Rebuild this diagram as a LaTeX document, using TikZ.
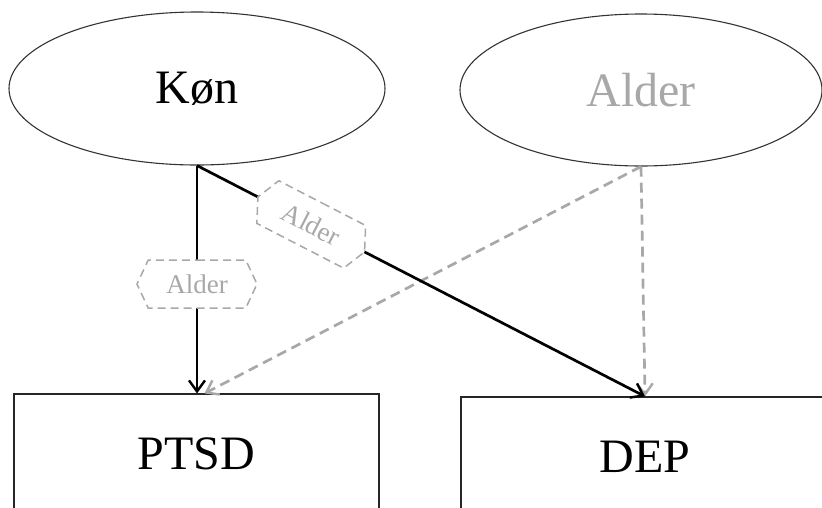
\documentclass[tikz,border=0pt]{standalone}
\usepackage{fontspec}
\setmainfont{Liberation Serif}
\usetikzlibrary{shapes.geometric,shapes.symbols,arrows.meta}
\definecolor{faded}{HTML}{A8A8A8}
\tikzset{
  bigtext/.style={font=\fontsize{48}{56}\selectfont},
  factor/.style={ellipse, draw=black!80, line width=1.1pt, bigtext},
  outcome/.style={rectangle, draw=black!85, line width=1.1pt, bigtext},
  effect/.style={line width=2.7pt, -{Straight Barb[length=11pt,width=16pt,line width=2.4pt]}},
  adjust/.style={line width=2.7pt, faded, dash pattern=on 10pt off 6pt,
    -{Straight Barb[length=11pt,width=16pt,line width=2.4pt]}},
  modlabel/.style={signal, signal to=west and east, signal pointer angle=130,
    draw=faded, fill=white, line width=1.5pt, dash pattern=on 8pt off 5pt,
    text=faded, font=\fontsize{27}{30}\selectfont,
    minimum width=120pt, minimum height=48pt, inner sep=2pt}
}
\begin{document}
\begin{tikzpicture}[x=1pt,y=-1pt]
  \useasboundingbox (0,0) rectangle (822,507);

  % exposure and confounder
  \node[factor, minimum width=376pt, minimum height=153pt] (kon) at (197,88.5) {Køn};
  \node[factor, minimum width=362pt, minimum height=152pt, text=faded] (alder) at (641,90) {Alder};

  % outcomes (boxes run past the lower page edge)
  \node[outcome, minimum width=365pt, minimum height=120pt] (ptsd) at (196.5,454) {PTSD};
  \node[outcome, minimum width=368pt, minimum height=120pt] (dep) at (645,457) {DEP};

  % adjustment paths from age
  \draw[adjust] (alder.south) -- ([xshift=8pt]ptsd.north);
  \draw[adjust] (alder.south) -- (dep.north);

  % effects of gender, each adjusted for age
  \draw[effect] (kon.south) -- node[modlabel, pos=0.52] (lblptsd) {Alder} (kon.south |- ptsd.north);
  \draw[effect] (kon.south) -- node[modlabel, sloped, pos=0.255] (lbldep) {Alder} (dep.north);
\end{tikzpicture}
\end{document}
